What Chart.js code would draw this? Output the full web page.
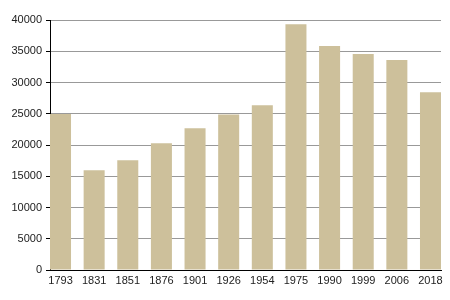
<!DOCTYPE html>
<html>
<head>
<meta charset="utf-8">
<script src="https://cdn.jsdelivr.net/npm/chart.js@4/dist/chart.umd.min.js"></script>
<style>
  html, body { margin: 0; padding: 0; background: #fff; }
  #wrap { width: 450px; height: 300px; }
</style>
</head>
<body>
<div id="wrap"><canvas id="pop"></canvas></div>
<script>
// population by census year
const years = ['1793', '1831', '1851', '1876', '1901', '1926', '1954', '1975', '1990', '1999', '2006', '2018'];
const population = [24950, 15970, 17570, 20290, 22680, 24870, 26360, 39330, 35840, 34560, 33600, 28450];
const yTicks = [0, 5000, 10000, 15000, 20000, 25000, 30000, 35000, 40000];

const points = population.map((v, i) => ({x: i, y: v}));

Chart.defaults.font.family = '"Liberation Sans", Arial, sans-serif';
Chart.defaults.font.size = 11;
Chart.defaults.color = '#222';

new Chart(document.getElementById('pop'), {
  type: 'bar',
  data: {
    datasets: [{
      data: points,
      backgroundColor: '#cdc09b',
      borderWidth: 0,
      categoryPercentage: 1,
      barPercentage: 0.625
    }]
  },
  options: {
    responsive: true,
    maintainAspectRatio: false,
    animation: false,
    layout: { padding: { top: 20, right: 9 } },
    plugins: { legend: { display: false }, tooltip: { enabled: false } },
    scales: {
      x: {
        type: 'linear',
        offset: false,
        min: -0.3125,
        max: years.length - 1 + 0.3125,
        grid: { display: true, drawOnChartArea: false, drawTicks: false },
        border: { display: true, color: '#000', width: 1 },
        ticks: {
          stepSize: 1,
          includeBounds: false,
          autoSkip: false,
          maxRotation: 0,
          padding: 4,
          callback: (v) => Number.isInteger(v) ? years[v] : ''
        },
        afterFit: (s) => { s.height = 30; }
      },
      y: {
        min: 0,
        max: yTicks[yTicks.length - 1],
        grid: {
          color: (c) => c.tick && c.tick.value % 5000 === 0 ? '#999' : '#ccc',
          tickColor: '#000',
          tickLength: 4
        },
        border: { display: true, color: '#000', width: 1 },
        ticks: {
          stepSize: 2500,
          padding: 4,
          callback: (v) => yTicks.includes(v) ? String(v) : ''
        },
        afterFit: (s) => { s.width = 50; }
      }
    }
  }
});
</script>
</body>
</html>
